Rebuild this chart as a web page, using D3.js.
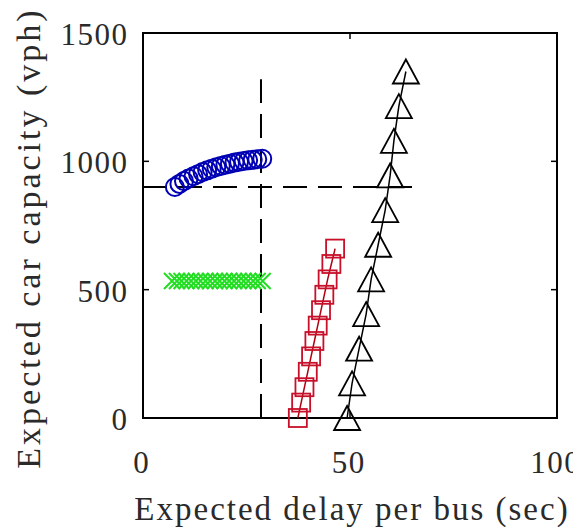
<!DOCTYPE html>
<html>
<head>
<meta charset="utf-8">
<script src="https://cdn.jsdelivr.net/npm/d3@7"></script>
<style>
  html, body { margin: 0; padding: 0; background: #fff; }
  svg { display: block; }
  text { font-family: "Liberation Serif", "Times New Roman", serif; fill: #2a2a2a; }
</style>
</head>
<body>
<svg id="chart" width="573" height="527"></svg>
<script>
// Expected delay per bus (sec) vs expected car capacity (vph), four scenarios
const xTicks = [0, 50, 100];
const yTicks = [0, 500, 1000, 1500];

// blue circles
const circleDelay = [7.7, 8.8, 9.9, 11.0, 12.2, 13.3, 14.4, 15.5, 16.6, 17.7, 18.8, 19.9, 21.0, 22.1, 23.2, 24.3, 25.4, 26.5, 27.6, 28.8];
const circleCap   = [900, 912, 923, 933, 942, 950, 958, 965, 971, 977, 982, 987, 991, 995, 998, 1001, 1004, 1006, 1008, 1010];

// green crosses
const crossDelay = [7.0, 8.2, 9.3, 10.5, 11.6, 12.8, 13.9, 15.1, 16.2, 17.4, 18.5, 19.7, 20.8, 22.0, 23.1, 24.3, 25.4, 26.6, 27.7, 28.9];
const crossCap   = [534, 534, 534, 534, 534, 534, 534, 534, 534, 534, 534, 534, 534, 534, 534, 534, 534, 534, 534, 534];

// red squares
const squareDelay = [37.4, 38.2, 39.0, 39.8, 40.6, 41.4, 42.2, 43.0, 43.8, 44.6, 45.5, 46.4];
const squareCap   = [0, 60, 120, 180, 240, 300, 360, 420, 480, 540, 600, 660];

// black triangles
const triDelay = [49.3, 50.5, 52.2, 53.9, 55.1, 56.8, 58.5, 59.7, 60.6, 61.8, 63.5];
const triCap   = [0, 135, 270, 405, 540, 675, 810, 945, 1080, 1215, 1350];

// reference levels (dashed)
const refDelay = 28.5;      // vertical dashed line
const refDelaySpan = [0, 1320];
const refCap = 900;         // horizontal dashed line
const refCapSpan = [0, 65];

const svg = d3.select("#chart");
const plotL = 143, plotR = 557, plotT = 33, plotB = 418;

const x = d3.scaleLinear().domain([0, 100]).range([plotL, plotR]);
const y = d3.scaleLinear().domain([0, 1500]).range([plotB, plotT]);

const zip = (a, b) => a.map((v, i) => [v, b[i]]);

// dashed reference lines
svg.append("line")
  .attr("x1", x(refDelay)).attr("x2", x(refDelay))
  .attr("y1", y(refDelaySpan[0])).attr("y2", y(refDelaySpan[1]))
  .attr("stroke", "#000").attr("stroke-width", 2).attr("stroke-dasharray", "24,11");
svg.append("line")
  .attr("x1", x(refCapSpan[0])).attr("x2", x(refCapSpan[1]))
  .attr("y1", y(refCap)).attr("y2", y(refCap))
  .attr("stroke", "#000").attr("stroke-width", 2).attr("stroke-dasharray", "24,11");

// frame
svg.append("rect")
  .attr("x", plotL).attr("y", plotT)
  .attr("width", plotR - plotL).attr("height", plotB - plotT)
  .attr("fill", "none").attr("stroke", "#000").attr("stroke-width", 2);

// inward ticks on all four sides
const tl = 6;
const g = svg.append("g").attr("stroke", "#000").attr("stroke-width", 1.5);
xTicks.forEach(t => {
  g.append("line").attr("x1", x(t)).attr("x2", x(t)).attr("y1", plotB).attr("y2", plotB - tl);
  g.append("line").attr("x1", x(t)).attr("x2", x(t)).attr("y1", plotT).attr("y2", plotT + tl);
});
yTicks.forEach(t => {
  g.append("line").attr("x1", plotL).attr("x2", plotL + tl).attr("y1", y(t)).attr("y2", y(t));
  g.append("line").attr("x1", plotR).attr("x2", plotR - tl).attr("y1", y(t)).attr("y2", y(t));
});

// tick labels
const tickFont = 31, tickLs = 1.5;
svg.append("g").selectAll("text").data(xTicks).join("text")
  .attr("x", d => x(d) - 2 + tickLs / 2).attr("y", 473)
  .attr("text-anchor", "middle").attr("font-size", tickFont)
  .attr("letter-spacing", tickLs)
  .text(d => d);
svg.append("g").selectAll("text").data(yTicks).join("text")
  .attr("x", 127 + tickLs).attr("y", d => y(d) + 12)
  .attr("text-anchor", "end").attr("font-size", tickFont)
  .attr("letter-spacing", tickLs)
  .text(d => d);

// axis titles
svg.append("text")
  .attr("x", 352).attr("y", 520)
  .attr("text-anchor", "middle").attr("font-size", 33)
  .attr("letter-spacing", 2)
  .text("Expected delay per bus (sec)");
svg.append("text")
  .attr("transform", "translate(40,238) rotate(-90)")
  .attr("text-anchor", "middle").attr("font-size", 34)
  .attr("letter-spacing", 3)
  .text("Expected car capacity (vph)");

const line = d3.line().x(d => x(d[0])).y(d => y(d[1]));

// blue circles
svg.append("g").selectAll("circle").data(zip(circleDelay, circleCap)).join("circle")
  .attr("cx", d => x(d[0])).attr("cy", d => y(d[1])).attr("r", 9)
  .attr("fill", "none").attr("stroke", "#0000b4").attr("stroke-width", 2);

// green crosses
const cs = 8;
svg.append("g").selectAll("path").data(zip(crossDelay, crossCap)).join("path")
  .attr("d", d => {
    const cx = x(d[0]), cy = y(d[1]);
    return `M${cx - cs},${cy - cs}L${cx + cs},${cy + cs}M${cx - cs},${cy + cs}L${cx + cs},${cy - cs}`;
  })
  .attr("fill", "none").attr("stroke", "#22dd22").attr("stroke-width", 2);

// red squares with connecting line
const sq = zip(squareDelay, squareCap);
svg.append("path").datum(sq).attr("d", line)
  .attr("fill", "none").attr("stroke", "#b00010").attr("stroke-width", 1.5);
const ss = 9;
svg.append("g").selectAll("rect").data(sq).join("rect")
  .attr("x", d => x(d[0]) - ss).attr("y", d => y(d[1]) - ss)
  .attr("width", 2 * ss).attr("height", 2 * ss)
  .attr("fill", "none").attr("stroke", "#c8102a").attr("stroke-width", 1.8);

// black triangles with connecting line
const tri = zip(triDelay, triCap);
svg.append("path").datum(tri).attr("d", line)
  .attr("fill", "none").attr("stroke", "#000").attr("stroke-width", 1.5);
const tw = 13, th = 12;
svg.append("g").selectAll("path.tri").data(tri).join("path")
  .attr("class", "tri")
  .attr("d", d => {
    const cx = x(d[0]), cy = y(d[1]);
    return `M${cx},${cy - th}L${cx + tw},${cy + th}L${cx - tw},${cy + th}Z`;
  })
  .attr("fill", "none").attr("stroke", "#000").attr("stroke-width", 1.8);
</script>
</body>
</html>
